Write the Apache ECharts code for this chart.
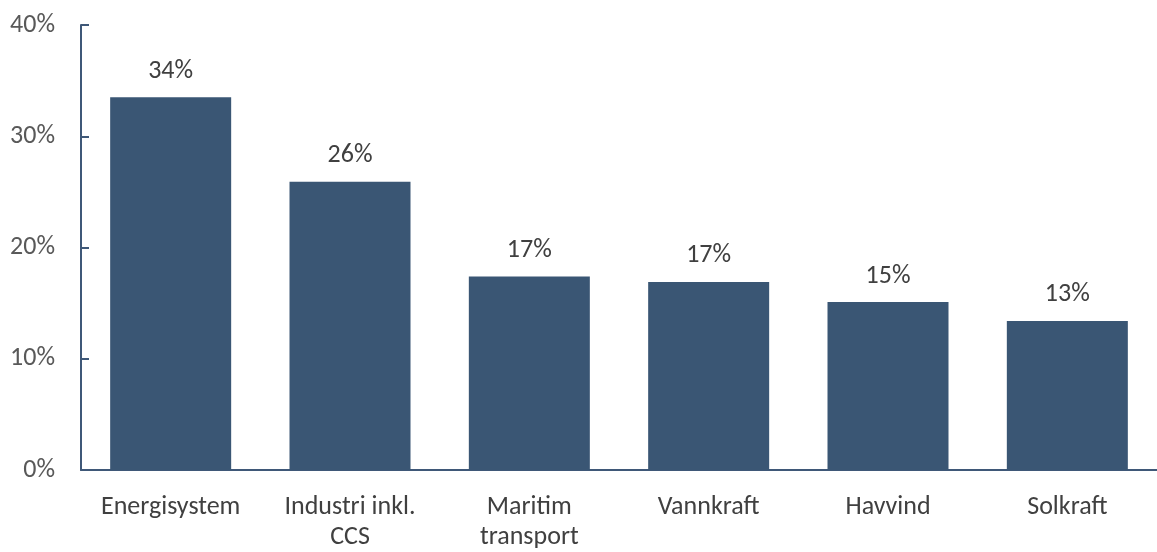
<!DOCTYPE html>
<html>
<head>
<meta charset="utf-8">
<script src="https://cdn.jsdelivr.net/npm/echarts@6/dist/echarts.min.js"></script>
<style>
  html, body { margin: 0; padding: 0; background: #ffffff; }
  #chart { width: 1157px; height: 552px; }
</style>
</head>
<body>
<div id="chart"></div>
<script>
// Categories and their shares (percent)
const categories = ['Energisystem', 'Industri inkl.\nCCS', 'Maritim\ntransport', 'Vannkraft', 'Havvind', 'Solkraft'];
const shares = [33.5, 25.9, 17.4, 16.9, 15.1, 13.4];
const yTicks = [0, 10, 20, 30, 40];

const barColor = '#3A5674';
const axisColor = '#3F5878';
const fontFamily = 'Carlito, Calibri, "Open Sans", sans-serif';

const chart = echarts.init(document.getElementById('chart'));
chart.setOption({
  animation: false,
  grid: { left: 81, right: -12, top: 25, bottom: 80 },
  xAxis: {
    type: 'category',
    data: categories,
    axisLine: { lineStyle: { color: axisColor, width: 2 } },
    axisTick: { show: false },
    axisLabel: {
      color: '#404040',
      fontFamily: fontFamily,
      fontSize: 26,
      lineHeight: 30,
      margin: 22,
      interval: 0
    }
  },
  yAxis: {
    type: 'value',
    min: yTicks[0],
    max: yTicks[yTicks.length - 1],
    interval: 10,
    axisLine: { show: true, lineStyle: { color: axisColor, width: 2 } },
    axisTick: { show: true, inside: true, length: 8, lineStyle: { color: axisColor, width: 2 } },
    splitLine: { show: false },
    axisLabel: {
      color: '#595959',
      fontFamily: fontFamily,
      fontSize: 26,
      margin: 26,
      formatter: v => v + '%'
    }
  },
  series: [{
    type: 'bar',
    data: shares,
    barWidth: 121,
    itemStyle: { color: barColor },
    label: {
      show: true,
      position: 'top',
      distance: 13,
      color: '#404040',
      fontFamily: fontFamily,
      fontSize: 26,
      formatter: p => Math.round(p.value) + '%'
    }
  }]
});
</script>
</body>
</html>
